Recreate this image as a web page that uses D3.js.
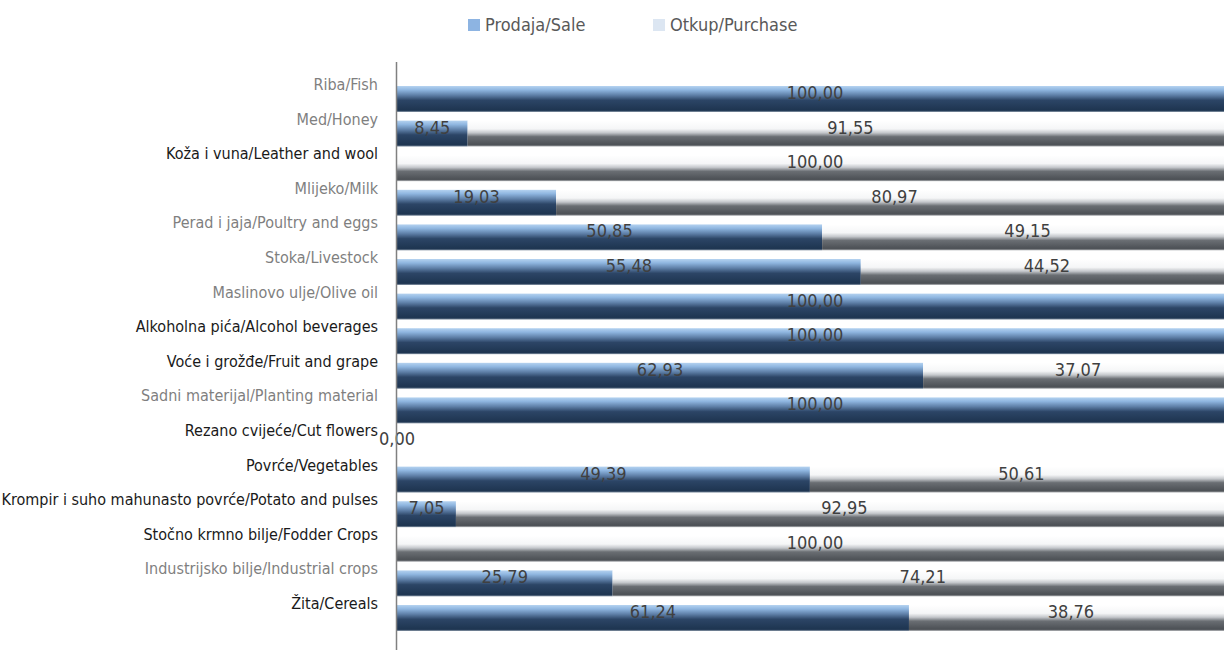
<!DOCTYPE html>
<html>
<head>
<meta charset="utf-8">
<script src="https://cdn.jsdelivr.net/npm/d3@7"></script>
<style>
  body { margin: 0; background: #fff; }
  text { font-family: "Liberation Sans Narrow", "Arial Narrow", "DejaVu Sans Condensed", sans-serif; }
</style>
</head>
<body>
<svg id="chart" width="1224" height="650"></svg>
<script>
// categories from top to bottom
var categories = [
  "Riba/Fish", "Med/Honey", "Koža i vuna/Leather and wool", "Mlijeko/Milk",
  "Perad i jaja/Poultry and eggs", "Stoka/Livestock", "Maslinovo ulje/Olive oil",
  "Alkoholna pića/Alcohol beverages", "Voće i grožđe/Fruit and grape",
  "Sadni materijal/Planting material", "Rezano cvijeće/Cut flowers",
  "Povrće/Vegetables", "Krompir i suho mahunasto povrće/Potato and pulses",
  "Stočno krmno bilje/Fodder Crops", "Industrijsko bilje/Industrial crops", "Žita/Cereals"
];
var sale     = [100, 8.45, 0, 19.03, 50.85, 55.48, 100, 100, 62.93, 100, 0, 49.39, 7.05, 0, 25.79, 61.24];
var purchase = [0, 91.55, 100, 80.97, 49.15, 44.52, 0, 0, 37.07, 0, 0, 50.61, 92.95, 100, 74.21, 38.76];
// which labels are drawn dark
var darkLabel = [0, 0, 1, 0, 0, 0, 0, 1, 1, 0, 1, 1, 1, 1, 0, 1];
var seriesNames = ["Prodaja/Sale", "Otkup/Purchase"];

var svg = d3.select("#chart");
var fmt = function (v) { return v.toFixed(2).replace(".", ","); };

// plot runs a little past the right edge of the picture
var x = d3.scaleLinear().domain([0, 100]).range([397, 1233]);
var y = d3.scaleBand().domain(categories).range([81.7, 635.3])
    .paddingInner(0.25).paddingOuter(0.125);

// gradients
var defs = svg.append("defs");
var g1 = defs.append("linearGradient").attr("id", "gSale")
    .attr("x1", 0).attr("y1", 0).attr("x2", 0).attr("y2", 1);
[[0, "#b4d2f0"], [0.15, "#8fb6e0"], [0.35, "#5f80a8"], [0.55, "#2c4566"], [0.9, "#1f3652"], [0.94, "#1f3652"], [1, "#8a98a8"]]
  .forEach(function (s) { g1.append("stop").attr("offset", s[0]).attr("stop-color", s[1]); });
var g2 = defs.append("linearGradient").attr("id", "gPurchase")
    .attr("x1", 0).attr("y1", 0).attr("x2", 0).attr("y2", 1);
[[0, "#ffffff"], [0.32, "#f5f6f7"], [0.47, "#c4c7cb"], [0.62, "#6a6e73"], [0.9, "#4f5358"], [0.94, "#4f5358"], [1, "#b8babd"]]
  .forEach(function (s) { g2.append("stop").attr("offset", s[0]).attr("stop-color", s[1]); });

// bars
var rows = svg.append("g").selectAll("g").data(categories).enter().append("g");

rows.append("rect")
    .attr("x", x(0))
    .attr("y", function (d) { return y(d); })
    .attr("width", function (d, i) { return x(sale[i]) - x(0); })
    .attr("height", y.bandwidth())
    .attr("fill", "url(#gSale)");

rows.append("rect")
    .attr("x", function (d, i) { return x(sale[i]); })
    .attr("y", function (d) { return y(d); })
    .attr("width", function (d, i) { return x(sale[i] + purchase[i]) - x(sale[i]); })
    .attr("height", y.bandwidth())
    .attr("fill", "url(#gPurchase)");

// value labels, centred on each segment
rows.each(function (d, i) {
    var row = d3.select(this);
    var yy = y(d) + 13;
    if (sale[i] > 0 || purchase[i] === 0) {
        row.append("text")
            .attr("x", x(sale[i] / 2))
            .attr("y", yy)
            .attr("text-anchor", "middle")
            .attr("font-size", 18)
            .attr("fill", "#404040")
            .text(fmt(sale[i]));
    }
    if (purchase[i] > 0) {
        row.append("text")
            .attr("x", x(sale[i] + purchase[i] / 2))
            .attr("y", yy)
            .attr("text-anchor", "middle")
            .attr("font-size", 18)
            .attr("fill", "#404040")
            .text(fmt(purchase[i]));
    }
});

// category labels
rows.append("text")
    .attr("x", 378)
    .attr("y", function (d) { return y(d) + y.bandwidth() / 2 - 9; })
    .attr("text-anchor", "end")
    .attr("font-size", 16)
    .attr("fill", function (d, i) { return darkLabel[i] ? "#1a1a1a" : "#7f7f7f"; })
    .text(function (d) { return d; });

// axis line
svg.append("line")
    .attr("x1", 396.5).attr("x2", 396.5)
    .attr("y1", 62).attr("y2", 650)
    .attr("stroke", "#808080").attr("stroke-width", 1.5);

// legend
var legendColors = ["#8db4e2", "#dce6f2"];
var legendX = [468, 653];
var legend = svg.append("g").selectAll("g").data(seriesNames).enter().append("g")
    .attr("transform", function (d, i) { return "translate(" + legendX[i] + ",0)"; });
legend.append("rect")
    .attr("x", 0).attr("y", 19).attr("width", 12).attr("height", 12)
    .attr("fill", function (d, i) { return legendColors[i]; });
legend.append("text")
    .attr("x", 17).attr("y", 31)
    .attr("font-size", 18)
    .attr("fill", "#595959")
    .text(function (d) { return d; });
</script>
</body>
</html>
